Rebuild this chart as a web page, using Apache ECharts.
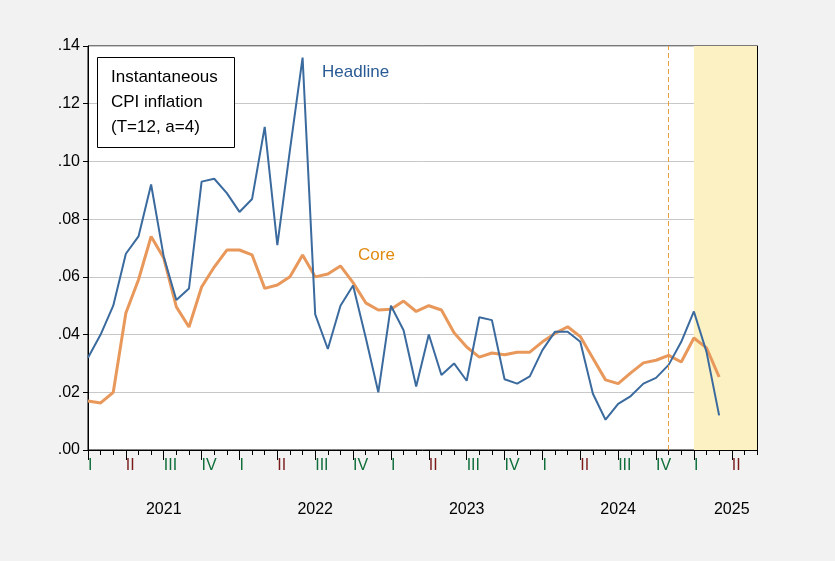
<!DOCTYPE html>
<html>
<head>
<meta charset="utf-8">
<title>Instantaneous CPI inflation</title>
<script src="https://cdn.jsdelivr.net/npm/echarts@6/dist/echarts.min.js"></script>
<style>html,body{margin:0;background:#f2f2f2;}</style>
</head>
<body>
<div id="main" style="width:835px;height:561px;"></div>
<script type="text/javascript">
    // monthly, Jan 2021 .. Jun 2025
    var months = [];
    for (var y = 2021; y <= 2025; y++) {
        for (var m = 1; m <= 12; m++) {
            if (y == 2025 && m > 6) break;
            months.push(y + '-' + (m < 10 ? '0' + m : m));
        }
    }
    var headline = [.032,.040,.050,.068,.074,.092,.067,.052,.056,.093,.094,.089,.0825,.087,.112,.071,.104,.136,
        .047,.035,.050,.057,.039,.020,.050,.0415,.022,.040,.026,.030,.024,.046,.045,.0245,.023,.0255,
        .0346,.041,.041,.0375,.0195,.0105,.016,.0187,.023,.025,.0295,.0375,.048,.034,.012];
    var core = [.017,.0163,.020,.0475,.059,.074,.0665,.0496,.0426,.0565,.0634,.0693,.0693,.0676,.056,.0572,.060,.0676,
        .060,.061,.0638,.058,.051,.0485,.0488,.0516,.048,.050,.0485,.0406,.0357,.0322,.0336,.033,.0339,.0339,
        .0375,.0404,.0427,.0393,.0318,.0243,.023,.0267,.0302,.0311,.0328,.0305,.0388,.0354,.0253];
    var quarterNames = ['I', 'II', 'III', 'IV'];
    var quarterColors = ['#0f6e3a', '#7a1a1a', '#0f6e3a', '#0f6e3a'];
    var yearLabelIdx = {6: '2021', 18: '2022', 30: '2023', 42: '2024', 51: '2025'};

    var myChart = echarts.init(document.getElementById('main'));
    var qStyle = function (c) { return {color: c, fontSize: 16, fontFamily: 'Liberation Sans'}; };
    var option = {
        backgroundColor: '#f2f2f2',
        animation: false,
        grid: {left: 88, right: 78, top: 46, bottom: 111, show: true,
            backgroundColor: '#fff', borderColor: '#000', borderWidth: 1},
        xAxis: [
            {
                type: 'category', data: months, boundaryGap: false,
                axisLine: {lineStyle: {color: '#000'}},
                axisTick: {interval: 0, length: 5, lineStyle: {color: '#000'}},
                axisLabel: {
                    interval: function (i) { return i % 3 == 0; },
                    margin: 8,
                    formatter: function (v, i) { return '{q' + (i / 3 % 4) + '|' + quarterNames[i / 3 % 4] + '}'; },
                    rich: {q0: qStyle(quarterColors[0]), q1: qStyle(quarterColors[1]),
                        q2: qStyle(quarterColors[2]), q3: qStyle(quarterColors[3])},
                    align: 'left'
                },
                splitLine: {show: false}
            },
            {
                type: 'category', data: months, boundaryGap: false, position: 'bottom',
                axisLine: {show: false},
                axisTick: {interval: function (i) { return i % 3 == 0; }, length: 10, lineStyle: {color: '#000'}},
                axisLabel: {
                    interval: 0, margin: 52, color: '#000', fontSize: 16, fontFamily: 'Liberation Sans',
                    formatter: function (v, i) { return yearLabelIdx[i] || ''; }
                }
            }
        ],
        yAxis: [
            {
                type: 'value', min: 0, max: 0.14, interval: 0.02,
                axisLine: {show: true, lineStyle: {color: '#000'}},
                axisTick: {show: true, inside: false, lineStyle: {color: '#000'}},
                axisLabel: {color: '#000', fontSize: 16, fontFamily: 'Liberation Sans',
                    formatter: function (v) { return v.toFixed(2).replace(/^0/, ''); }},
                splitLine: {lineStyle: {color: '#c8c8c8'}}
            },
            {
                type: 'value', min: 0, max: 0.14, interval: 0.02, position: 'right',
                axisLine: {show: true, lineStyle: {color: '#000'}},
                axisTick: {show: true, inside: true, lineStyle: {color: '#000'}},
                axisLabel: {show: false}, splitLine: {show: false}
            }
        ],
        series: [
            {
                name: 'Headline', type: 'line', data: headline, symbol: 'none',
                lineStyle: {color: '#3a6a9e', width: 2}, z: 3,
                markArea: {silent: true, itemStyle: {color: '#fcf1c2'},
                    data: [[{xAxis: months[48]}, {xAxis: months[53]}]]},
                markLine: {silent: true, symbol: 'none', label: {show: false},
                    lineStyle: {color: '#e8a040', type: [5, 3], width: 1},
                    data: [{xAxis: months[46]}]}
            },
            {
                name: 'Core', type: 'line', data: core, symbol: 'none',
                lineStyle: {color: '#e8985a', width: 3}, z: 2
            }
        ],
        graphic: [
            {type: 'rect', shape: {x: 97.5, y: 57.5, width: 137, height: 90},
                style: {fill: '#fff', stroke: '#000', lineWidth: 1}, z: 10},
            {type: 'text', left: 111, top: 65, z: 11,
                style: {text: 'Instantaneous\nCPI inflation\n(T=12, a=4)', fill: '#000',
                    font: '17px Liberation Sans', lineHeight: 25}},
            {type: 'text', left: 322, top: 64, z: 11,
                style: {text: 'Headline', fill: '#2a5b94', font: '17px Liberation Sans'}},
            {type: 'text', left: 358, top: 247, z: 11,
                style: {text: 'Core', fill: '#e08a10', font: '17px Liberation Sans'}}
        ]
    };
    myChart.setOption(option);
</script>
</body>
</html>
